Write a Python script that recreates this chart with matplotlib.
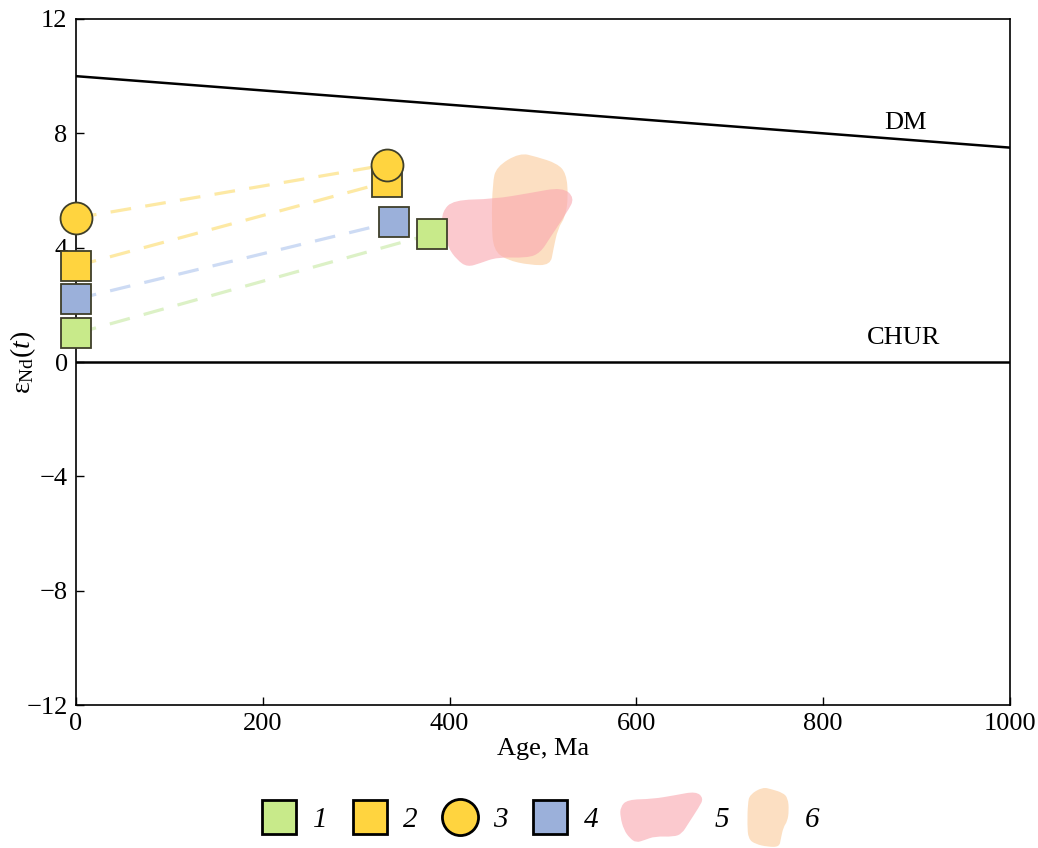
import numpy as np
import matplotlib
matplotlib.use("Agg")
import matplotlib.pyplot as plt
from matplotlib.path import Path
from matplotlib.patches import PathPatch, Patch
from matplotlib.lines import Line2D
from matplotlib.legend_handler import HandlerPatch

plt.rcParams['font.family'] = ['Liberation Serif', 'DejaVu Serif']
plt.rcParams['mathtext.fontset'] = 'custom'
plt.rcParams['mathtext.rm'] = 'Liberation Serif'
plt.rcParams['mathtext.it'] = 'Liberation Serif:italic'

# reference evolution curves
DM_AGE   = [0, 1000]
DM_EPS   = [10.0, 7.5]
CHUR_AGE = [0, 1000]
CHUR_EPS = [0.0, 0.0]

# samples: eps at present day and at the crystallisation age
SAMPLE_LABELS = ['1', '2', '3', '4']
AGE_NOW   = [0, 0, 0, 0]
EPS_NOW   = [1.0, 3.36, 5.04, 2.2]
AGE_CRYST = [381, 333, 333, 340]
EPS_CRYST = [4.48, 6.3, 6.9, 4.9]

# outline of field 5
FIELD5_AGE = [392, 404, 447, 486, 521, 534, 526, 508, 497, 483, 451, 433, 419, 408, 398, 392]
FIELD5_EPS = [5.26, 5.67, 5.70, 5.91, 6.12, 5.74, 5.25, 4.37, 3.81, 3.64, 3.67, 3.46, 3.32, 3.57, 4.02, 4.72]
# outline of field 6
FIELD6_AGE = [450, 475, 493, 515, 525, 527, 524, 516, 511, 508, 486, 461, 447, 445, 446]
FIELD6_EPS = [6.83, 7.32, 7.18, 6.95, 6.60, 5.78, 5.08, 4.68, 3.92, 3.39, 3.39, 3.57, 3.92, 4.85, 6.25]

face   = ['#c8ea8a', '#ffd43f', '#ffd43f', '#9bb0da']
dashc  = ['#dcf1c6', '#fde9a4', '#fde9a4', '#cddbf4']
marks  = ['s', 's', 'o', 's']
msizes = [22, 22, 23, 22]


def smooth_path(xs, ys):
    v = np.column_stack([xs, ys]).astype(float)
    mid = (v + np.roll(v, -1, axis=0)) / 2
    verts, codes = [mid[-1]], [Path.MOVETO]
    for i in range(len(v)):
        verts += [v[i], mid[i]]
        codes += [Path.CURVE3, Path.CURVE3]
    return Path(verts, codes)


def blob_handler(xs, ys, w, h, dx):
    def make(legend, orig_handle, xdescent, ydescent, width, height, fontsize):
        x = np.asarray(xs, float)
        y = np.asarray(ys, float)
        x = (x - x.min()) / (x.max() - x.min())
        y = (y - y.min()) / (y.max() - y.min())
        cx = -xdescent + width / 2 + dx
        cy = -ydescent + height / 2
        return PathPatch(smooth_path(cx + (x - 0.5) * w, cy + (y - 0.5) * h))
    return HandlerPatch(patch_func=make)


fig = plt.figure(figsize=(10.38, 8.48), dpi=100)
ax = fig.add_axes([0.0732, 0.1686, 0.8998, 0.809])

ax.plot(DM_AGE, DM_EPS, color='black', lw=1.8, zorder=2)
ax.plot(CHUR_AGE, CHUR_EPS, color='black', lw=1.8, zorder=2)
ax.text(888, 8.36, 'DM', fontsize=19, ha='center', va='center')
ax.text(886, 0.84, 'CHUR', fontsize=19, ha='center', va='center')

# fields 6 and 5
ax.add_patch(PathPatch(smooth_path(FIELD6_AGE, FIELD6_EPS), facecolor='#fbd2a8',
                       alpha=0.7, edgecolor='none', zorder=1))
ax.add_patch(PathPatch(smooth_path(FIELD5_AGE, FIELD5_EPS), facecolor='#f9a5ae',
                       alpha=0.6, edgecolor='none', zorder=1))

# dashed tie-lines between present-day and initial values
for i in range(len(SAMPLE_LABELS)):
    ax.plot([AGE_NOW[i], AGE_CRYST[i]], [EPS_NOW[i], EPS_CRYST[i]], color=dashc[i],
            lw=2.3, dashes=(6.5, 4.5), zorder=2, solid_capstyle='butt')

# markers: squares first, circle on top
for i in [0, 3, 1, 2]:
    ax.plot([AGE_NOW[i], AGE_CRYST[i]], [EPS_NOW[i], EPS_CRYST[i]], ls='none',
            marker=marks[i], ms=msizes[i], mfc=face[i], mec='#3f3f2a', mew=1.3,
            clip_on=False, zorder=4)

ax.set_xlim(0, 1000)
ax.set_ylim(-12, 12)
ax.set_xticks(range(0, 1001, 200))
ax.set_yticks(range(-12, 13, 4))
ax.tick_params(direction='in', length=6, width=1, labelsize=19, pad=6,
               top=False, right=False)
for s in ax.spines.values():
    s.set_linewidth(1.2)
ax.set_xlabel('Age, Ma', fontsize=19, labelpad=2)
ax.set_ylabel('ε$_{\\mathrm{Nd}}$($\\mathit{t}$)', fontsize=20)
ax.yaxis.set_label_coords(-0.041, 0.5)

# legend: symbols 1-4 and fields 5-6
h1 = Line2D([], [], ls='none', marker='s', ms=24, mfc=face[0], mec='black', mew=2)
h2 = Line2D([], [], ls='none', marker='s', ms=24, mfc=face[1], mec='black', mew=2)
h3 = Line2D([], [], ls='none', marker='o', ms=26, mfc=face[2], mec='black', mew=2)
h4 = Line2D([], [], ls='none', marker='s', ms=24, mfc=face[3], mec='black', mew=2)
h5 = Patch(facecolor='#f9a5ae', alpha=0.6, edgecolor='none')
h6 = Patch(facecolor='#fbd2a8', alpha=0.7, edgecolor='none')

leg_kw = dict(bbox_transform=fig.transFigure, frameon=False,
              prop={'family': 'Liberation Serif', 'style': 'italic', 'size': 21},
              handlelength=1.4, handletextpad=0.45, columnspacing=0.74,
              borderpad=0, borderaxespad=0)
leg_y = 1 - 820 / 848
leg1 = fig.legend([h1, h2, h3, h4], SAMPLE_LABELS, ncol=4, loc='center left',
                  bbox_to_anchor=(259 / 1038, leg_y), **leg_kw)
leg2 = fig.legend([h5, h6], ['5', '6'], ncol=2, loc='center left',
                  bbox_to_anchor=(661 / 1038, leg_y),
                  handler_map={h5: blob_handler(FIELD5_AGE, FIELD5_EPS, 60, 37, -14),
                               h6: blob_handler(FIELD6_AGE, FIELD6_EPS, 30, 43, -2.5)},
                  **leg_kw)

fig.savefig('out.png', dpi=100)
